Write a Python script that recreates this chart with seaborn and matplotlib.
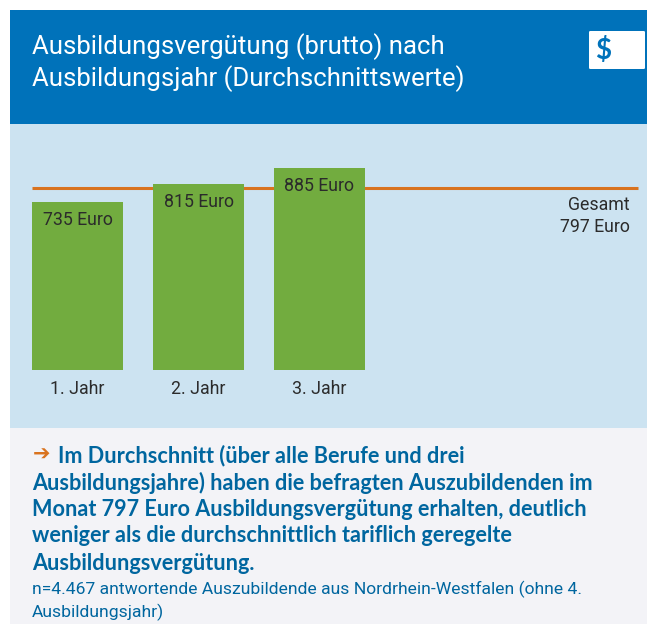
import matplotlib
matplotlib.use("Agg")
import matplotlib.pyplot as plt
from matplotlib.patches import Rectangle, FancyBboxPatch
import seaborn as sns
import pandas as pd

years = ["1. Jahr", "2. Jahr", "3. Jahr"]
values = [735, 815, 885]
bar_labels = ["735 Euro", "815 Euro", "885 Euro"]
overall = 797
overall_label = "Gesamt\n797 Euro"
title_lines = ["Ausbildungsvergütung (brutto) nach", "Ausbildungsjahr (Durchschnittswerte)"]
bold_lines = ["Im Durchschnitt (über alle Berufe und drei",
              "Ausbildungsjahre) haben die befragten Auszubildenden im",
              "Monat 797 Euro Ausbildungsvergütung erhalten, deutlich",
              "weniger als die durchschnittlich tariflich geregelte",
              "Ausbildungsvergütung."]
note_lines = ["n=4.467 antwortende Auszubildende aus Nordrhein-Westfalen (ohne 4.",
              "Ausbildungsjahr)"]

W, H = 647, 624
BLUE, LIGHT, GREY = "#0072BA", "#CCE3F1", "#F3F3F7"
GREEN, ORANGE, TEXTBLUE, DARK = "#72AC3F", "#D9731F", "#00669F", "#2B2B2B"
FONT = "Roboto"
BOLD = "Lato"

sns.set_theme(style="white")
plt.rcParams["font.family"] = FONT
fig = plt.figure(figsize=(W / 100, H / 100), dpi=100, facecolor="white")
def fx(x): return x / W
def fy(y): return 1 - y / H
def panel(x0, y0, x1, y1, c):
    fig.add_artist(Rectangle((fx(x0), fy(y1)), (x1 - x0) / W, (y1 - y0) / H,
                             transform=fig.transFigure, fc=c, ec="none"))
panel(10, 10, 647, 124, BLUE)
panel(10, 428, 647, 624, GREY)

ax = fig.add_axes([fx(10), fy(428), 637 / W, 304 / H], facecolor=LIGHT)
df = pd.DataFrame({"Jahr": years, "Euro": values})
sns.barplot(data=df, x="Jahr", y="Euro", color=GREEN, saturation=1, width=0.752, ax=ax, zorder=3,
            edgecolor="none", linewidth=0)
ax.set_xlim((10 - 77.5) / 121, (647 - 77.5) / 121)
ax.set_ylim(-58 / 0.228, 246 / 0.228)
ax.spines["bottom"].set_position(("data", 0))
sns.despine(ax=ax, left=True, bottom=True, top=True, right=True)
ax.set_xlabel(""); ax.set_ylabel(""); ax.set_yticks([])
ax.tick_params(axis="x", length=0, pad=7, labelsize=12.8, labelcolor=DARK)
ax.hlines(overall, (32 - 77.5) / 121, (638 - 77.5) / 121, color=ORANGE, lw=2.2, zorder=2)
for i, (v, l) in enumerate(zip(values, bar_labels)):
    ax.text(i, v - 18 / 0.228, l, ha="center", va="center", fontsize=12.8, color=DARK, zorder=4)
ax.text((630 - 77.5) / 121, overall - 27.5 / 0.228, overall_label, ha="right", va="center",
        fontsize=12.8, color=DARK, linespacing=1.27)

for y, s in zip([47, 79], title_lines):
    fig.text(fx(32), fy(y), s, color="white", fontsize=18.5, va="center", ha="left")
fig.add_artist(FancyBboxPatch((fx(589), fy(69)), 56 / W, 38 / H, transform=fig.transFigure,
                              boxstyle="round,pad=0,rounding_size=0.002", fc="white", ec="none"))
fig.text(fx(603), fy(50), "$", color=BLUE, fontsize=20, va="center", ha="center", family="Lato", fontweight="bold")

fig.text(fx(33), fy(455), "➔", color=ORANGE, fontsize=15, family="DejaVu Sans", va="center", ha="left")
xs = [58, 32, 32, 32, 32]
for x, y, s in zip(xs, [456, 483, 510, 536, 563], bold_lines):
    fig.text(fx(x), fy(y), s, color=TEXTBLUE, fontsize=15.6, fontweight="bold", family=BOLD, va="center", ha="left")
for y, s in zip([589, 612], note_lines):
    fig.text(fx(32), fy(y), s, color=TEXTBLUE, fontsize=12.6, va="center", ha="left")

fig.savefig("out.png", dpi=100)
